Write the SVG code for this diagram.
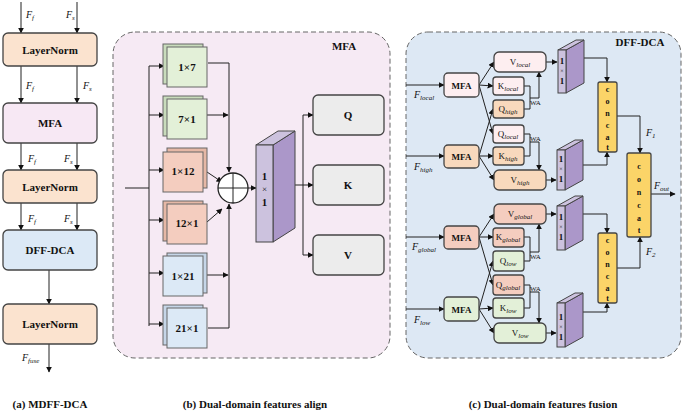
<svg xmlns="http://www.w3.org/2000/svg" width="685" height="414" viewBox="0 0 685 414" font-family="'Liberation Serif', serif">
<defs>
<marker id="ah" viewBox="0 0 10 10" refX="9" refY="5" markerWidth="6" markerHeight="6" orient="auto"><path d="M0,0L10,5L0,10z" fill="#111"/></marker>
<style>
text{font-family:'Liberation Serif',serif;fill:#111}
.b{font-weight:bold}
.it{font-style:italic}
.box{stroke:#444;stroke-width:1.3}
.ln{stroke:#222;stroke-width:1;fill:none}
.ar{stroke:#222;stroke-width:1;fill:none;marker-end:url(#ah)}
.peach{fill:#fbe3cf}.pink{fill:#f7e8f4}.blue{fill:#dce9f6}.green{fill:#e3f0d8}.salmon{fill:#f4cdbf}.lpink{fill:#fdeef0}.gray{fill:#ececec}.yel{fill:#fbd468}
.pf{fill:#ccc2de;stroke:#444;stroke-width:1}.pb{fill:#ab97c9;stroke:#444;stroke-width:1}
</style>
</defs>
<rect width="685" height="414" fill="#fff"/>
<rect x="113" y="32" width="277" height="326" rx="22" fill="#f6eaf4" stroke="#666" stroke-dasharray="5,3"/>
<rect x="406" y="32" width="275" height="326" rx="22" fill="#dde8f4" stroke="#666" stroke-dasharray="5,3"/>

<g id="connectors">
<line class="ar" x1="21" y1="2" x2="21" y2="33"/><line class="ar" x1="77" y1="2" x2="77" y2="33"/>
<line class="ar" x1="21" y1="66" x2="21" y2="103"/><line class="ar" x1="77" y1="66" x2="77" y2="103"/>
<line class="ar" x1="21" y1="143" x2="21" y2="170"/><line class="ar" x1="77" y1="143" x2="77" y2="170"/>
<line class="ar" x1="21" y1="203" x2="21" y2="230"/><line class="ar" x1="77" y1="203" x2="77" y2="230"/>
<line class="ar" x1="49" y1="270" x2="49" y2="304"/>
<line class="ar" x1="49" y1="344" x2="49" y2="372"/>
<polyline class="ln" points="125,188 149,188"/>
<line class="ln" x1="149" y1="66" x2="149" y2="326"/>
<line class="ar" x1="149" y1="66" x2="164" y2="66"/>
<line class="ar" x1="149" y1="115" x2="164" y2="115"/>
<line class="ar" x1="149" y1="170" x2="164" y2="170"/>
<line class="ar" x1="149" y1="220" x2="164" y2="220"/>
<line class="ar" x1="149" y1="273" x2="164" y2="273"/>
<line class="ar" x1="149" y1="324" x2="164" y2="324"/>
<polyline class="ar" points="208,63 229,63 229,172"/>
<polyline class="ar" points="208,328 229,328 229,204"/>
<line class="ar" x1="207" y1="115" x2="228" y2="115"/>
<line class="ar" x1="207" y1="275" x2="228" y2="275"/>
<line class="ar" x1="207" y1="172" x2="222" y2="182"/>
<line class="ar" x1="207" y1="222" x2="222" y2="209"/>
<line class="ar" x1="248" y1="188" x2="256" y2="188"/>
<line class="ln" x1="295" y1="185" x2="303" y2="185"/>
<line class="ln" x1="303" y1="115" x2="303" y2="255"/>
<line class="ar" x1="303" y1="115" x2="313" y2="115"/>
<line class="ar" x1="303" y1="185" x2="313" y2="185"/>
<line class="ar" x1="303" y1="255" x2="313" y2="255"/>
<line class="ar" x1="406" y1="85" x2="444" y2="85"/>
<line class="ar" x1="406" y1="156" x2="444" y2="156"/>
<line class="ar" x1="406" y1="237" x2="444" y2="237"/>
<line class="ar" x1="406" y1="309" x2="444" y2="309"/>
<line class="ar" x1="479" y1="85" x2="494" y2="62"/><line class="ar" x1="479" y1="85" x2="493" y2="86"/><line class="ar" x1="479" y1="85" x2="493" y2="134"/>
<line class="ar" x1="479" y1="156" x2="493" y2="109"/><line class="ar" x1="479" y1="156" x2="493" y2="156"/><line class="ar" x1="479" y1="156" x2="494" y2="180"/>
<line class="ar" x1="479" y1="237" x2="494" y2="214"/><line class="ar" x1="479" y1="237" x2="493" y2="237"/><line class="ar" x1="479" y1="237" x2="493" y2="285"/>
<line class="ar" x1="479" y1="309" x2="493" y2="261"/><line class="ar" x1="479" y1="309" x2="493" y2="308"/><line class="ar" x1="479" y1="309" x2="494" y2="333"/>
<polyline class="ln" points="524,86 530,86 530,109 524,109"/><polyline class="ar" points="530,98 539,98 539,72"/>
<polyline class="ln" points="524,134 530,134 530,156 524,156"/><polyline class="ar" points="530,142 539,142 539,170"/>
<polyline class="ln" points="524,237 530,237 530,261 524,261"/><polyline class="ar" points="530,252 539,252 539,224"/>
<polyline class="ln" points="524,285 530,285 530,308 524,308"/><polyline class="ar" points="530,292 539,292 539,323"/>
<line class="ar" x1="546" y1="62" x2="557" y2="62"/>
<line class="ar" x1="546" y1="180" x2="556" y2="180"/>
<line class="ar" x1="546" y1="214" x2="556" y2="214"/>
<line class="ar" x1="546" y1="333" x2="556" y2="333"/>
<polyline class="ar" points="584,58 607,58 607,82"/>
<polyline class="ar" points="583,165 607,165 607,152"/>
<polyline class="ar" points="583,214 607,214 607,233"/>
<polyline class="ar" points="583,312 607,312 607,303"/>
<polyline class="ar" points="617,116 640,116 640,153"/>
<polyline class="ar" points="617,268 640,268 640,237"/>
<line class="ar" x1="651" y1="194" x2="675" y2="194"/>
</g>

<g id="ln1"><rect class="box peach" x="3" y="33" width="94" height="33" rx="5"/><text class="b" x="50" y="54" font-size="11" text-anchor="middle">LayerNorm</text></g>
<g id="mfa0"><rect class="box pink" x="3" y="103" width="94" height="40" rx="5"/><text class="b" x="50" y="127" font-size="11" text-anchor="middle">MFA</text></g>
<g id="ln2"><rect class="box peach" x="3" y="170" width="94" height="33" rx="5"/><text class="b" x="50" y="191" font-size="11" text-anchor="middle">LayerNorm</text></g>
<g id="dff0"><rect class="box blue" x="3" y="230" width="94" height="40" rx="5"/><text class="b" x="50" y="254" font-size="11" text-anchor="middle">DFF-DCA</text></g>
<g id="ln3"><rect class="box peach" x="3" y="304" width="94" height="40" rx="5"/><text class="b" x="50" y="328" font-size="11" text-anchor="middle">LayerNorm</text></g>
<g id="llabels" font-size="10">
<text class="it" x="26" y="18">F<tspan font-size="7" dy="2">f</tspan></text><text class="it" x="66" y="18">F<tspan font-size="7" dy="2">s</tspan></text>
<text class="it" x="26" y="89">F<tspan font-size="7" dy="2">f</tspan></text><text class="it" x="83" y="89">F<tspan font-size="7" dy="2">s</tspan></text>
<text class="it" x="28" y="162">F<tspan font-size="7" dy="2">f</tspan></text><text class="it" x="64" y="162">F<tspan font-size="7" dy="2">s</tspan></text>
<text class="it" x="28" y="222">F<tspan font-size="7" dy="2">f</tspan></text><text class="it" x="64" y="222">F<tspan font-size="7" dy="2">s</tspan></text>
<text class="it" x="22" y="361">F<tspan font-size="7" dy="2">fuse</tspan></text>
</g>
<text class="b" x="50" y="408" font-size="11" text-anchor="middle">(a) MDFF-DCA</text>

<text class="b" x="344" y="50" font-size="11" text-anchor="middle">MFA</text>
<g font-size="11">
<g id="k17"><rect x="163" y="44" width="40" height="40" fill="#c9dcbc" stroke="#666"/><rect class="green" x="167" y="47" width="40" height="40" stroke="#666"/><text class="b" x="187" y="71" text-anchor="middle">1×7</text></g>
<g id="k71"><rect x="163" y="96" width="40" height="40" fill="#c9dcbc" stroke="#666"/><rect class="green" x="167" y="99" width="40" height="40" stroke="#666"/><text class="b" x="187" y="123" text-anchor="middle">7×1</text></g>
<g id="k112"><rect x="167" y="148" width="40" height="40" fill="#e6b8a6" stroke="#666"/><rect class="salmon" x="163" y="152" width="40" height="40" stroke="#666"/><text class="b" x="183" y="175" text-anchor="middle">1×12</text></g>
<g id="k121"><rect x="163" y="201" width="40" height="40" fill="#e6b8a6" stroke="#666"/><rect class="salmon" x="167" y="204" width="40" height="40" stroke="#666"/><text class="b" x="187" y="227" text-anchor="middle">12×1</text></g>
<g id="k121b"><rect x="167" y="253" width="40" height="40" fill="#c6d6e8" stroke="#666"/><rect class="blue" x="163" y="256" width="40" height="40" stroke="#666"/><text class="b" x="183" y="280" text-anchor="middle">1×21</text></g>
<g id="k211"><rect x="163" y="305" width="40" height="40" fill="#c6d6e8" stroke="#666"/><rect class="blue" x="167" y="308" width="40" height="40" stroke="#666"/><text class="b" x="187" y="332" text-anchor="middle">21×1</text></g>
</g>
<g id="oplus"><circle cx="233" cy="188" r="15" fill="#fff" stroke="#222" stroke-width="1.3"/><line class="ln" x1="218" y1="188" x2="248" y2="188"/><line class="ln" x1="233" y1="173" x2="233" y2="203"/></g>
<g id="conv1"><polygon class="pb" points="273,145 295,131 295,228 273,242"/><polygon class="pf" points="256,145 273,145 295,131 278,131"/><rect class="pf" x="256" y="145" width="17" height="97"/><text class="b" x="264.5" y="180" font-size="11" text-anchor="middle">1</text><text x="264.5" y="192" font-size="9" text-anchor="middle">×</text><text class="b" x="264.5" y="206" font-size="11" text-anchor="middle">1</text></g>
<g id="q"><rect class="box gray" x="313" y="95" width="71" height="40" rx="5"/><text class="b" x="348" y="119" font-size="11" text-anchor="middle">Q</text></g>
<g id="k"><rect class="box gray" x="313" y="165" width="71" height="40" rx="5"/><text class="b" x="348" y="189" font-size="11" text-anchor="middle">K</text></g>
<g id="v"><rect class="box gray" x="313" y="235" width="71" height="40" rx="5"/><text class="b" x="348" y="259" font-size="11" text-anchor="middle">V</text></g>
<text class="b" x="255" y="408" font-size="11" text-anchor="middle">(b) Dual-domain  features align</text>

<text class="b" x="640" y="46" font-size="11" text-anchor="middle">DFF-DCA</text>
<g font-size="9">
<g id="mfa1"><rect class="box lpink" x="444" y="73" width="35" height="24" rx="4"/><text class="b" x="461.5" y="89" text-anchor="middle">MFA</text></g>
<g id="mfa2"><rect class="box" x="444" y="145" width="35" height="23" rx="4" fill="#f8d9bd"/><text class="b" x="461.5" y="160" text-anchor="middle">MFA</text></g>
<g id="mfa3"><rect class="box salmon" x="444" y="226" width="35" height="23" rx="4"/><text class="b" x="461.5" y="241" text-anchor="middle">MFA</text></g>
<g id="mfa4"><rect class="box green" x="444" y="297" width="35" height="24" rx="4"/><text class="b" x="461.5" y="313" text-anchor="middle">MFA</text></g>
<g id="vlocal"><rect class="box lpink" x="494" y="52" width="52" height="20" rx="5"/><text x="520" y="65" text-anchor="middle">V<tspan class="it" font-size="7" dy="2">local</tspan></text></g>
<g id="klocal"><rect class="box lpink" x="493" y="77" width="31" height="18" rx="3"/><text x="508" y="89" text-anchor="middle">K<tspan class="it" font-size="7" dy="2">local</tspan></text></g>
<g id="qhigh"><rect class="box" fill="#f8d9bd" x="493" y="100" width="31" height="18" rx="3"/><text x="508" y="112" text-anchor="middle">Q<tspan class="it" font-size="7" dy="2">high</tspan></text></g>
<g id="qlocal"><rect class="box lpink" x="493" y="125" width="31" height="18" rx="3"/><text x="508" y="137" text-anchor="middle">Q<tspan class="it" font-size="7" dy="2">local</tspan></text></g>
<g id="khigh"><rect class="box" fill="#f8d9bd" x="493" y="147" width="31" height="18" rx="3"/><text x="508" y="159" text-anchor="middle">K<tspan class="it" font-size="7" dy="2">high</tspan></text></g>
<g id="vhigh"><rect class="box" fill="#f8d9bd" x="494" y="170" width="52" height="20" rx="5"/><text x="520" y="183" text-anchor="middle">V<tspan class="it" font-size="7" dy="2">high</tspan></text></g>
<g id="vglobal"><rect class="box salmon" x="494" y="204" width="52" height="20" rx="5"/><text x="520" y="217" text-anchor="middle">V<tspan class="it" font-size="7" dy="2">global</tspan></text></g>
<g id="kglobal"><rect class="box salmon" x="493" y="228" width="31" height="19" rx="3"/><text x="508" y="240" text-anchor="middle">K<tspan class="it" font-size="7" dy="2">global</tspan></text></g>
<g id="qlow"><rect class="box green" x="493" y="251" width="31" height="20" rx="3"/><text x="508" y="264" text-anchor="middle">Q<tspan class="it" font-size="7" dy="2">low</tspan></text></g>
<g id="qglobal"><rect class="box salmon" x="493" y="275" width="31" height="20" rx="3"/><text x="508" y="288" text-anchor="middle">Q<tspan class="it" font-size="7" dy="2">global</tspan></text></g>
<g id="klow"><rect class="box green" x="493" y="298" width="31" height="20" rx="3"/><text x="508" y="311" text-anchor="middle">K<tspan class="it" font-size="7" dy="2">low</tspan></text></g>
<g id="vlow"><rect class="box green" x="494" y="323" width="52" height="20" rx="5"/><text x="520" y="336" text-anchor="middle">V<tspan class="it" font-size="7" dy="2">low</tspan></text></g>
</g>
<g font-size="7">
<text x="530" y="105">WA</text><text x="530" y="141">WA</text><text x="530" y="259">WA</text><text x="530" y="291">WA</text>
</g>
<g font-size="9">
<g id="c1"><polygon class="pb" points="566,50 584,40 584,83 566,93"/><polygon class="pf" points="558,50 566,50 584,40 576,40"/><rect class="pf" x="558" y="50" width="8" height="43"/><text class="b" x="562" y="64" text-anchor="middle">1</text><text x="562" y="73" font-size="6" text-anchor="middle">×</text><text class="b" x="562" y="84" text-anchor="middle">1</text></g>
<g id="c2"><polygon class="pb" points="565,150 583,140 583,180 565,190"/><polygon class="pf" points="557,150 565,150 583,140 575,140"/><rect class="pf" x="557" y="150" width="8" height="40"/><text class="b" x="561" y="162" text-anchor="middle">1</text><text x="561" y="171" font-size="6" text-anchor="middle">×</text><text class="b" x="561" y="182" text-anchor="middle">1</text></g>
<g id="c3"><polygon class="pb" points="565,206 583,196 583,240 565,250"/><polygon class="pf" points="557,206 565,206 583,196 575,196"/><rect class="pf" x="557" y="206" width="8" height="44"/><text class="b" x="561" y="220" text-anchor="middle">1</text><text x="561" y="229" font-size="6" text-anchor="middle">×</text><text class="b" x="561" y="240" text-anchor="middle">1</text></g>
<g id="c4"><polygon class="pb" points="565,303 583,293 583,337 565,347"/><polygon class="pf" points="557,303 565,303 583,293 575,293"/><rect class="pf" x="557" y="303" width="8" height="44"/><text class="b" x="561" y="320" text-anchor="middle">1</text><text x="561" y="329" font-size="6" text-anchor="middle">×</text><text class="b" x="561" y="340" text-anchor="middle">1</text></g>
</g>
<g font-size="8">
<g id="cat1"><rect class="box yel" x="598" y="82" width="19" height="70" rx="2"/><text class="b" text-anchor="middle"><tspan x="607.5" y="92">c</tspan><tspan x="607.5" y="104">o</tspan><tspan x="607.5" y="116">n</tspan><tspan x="607.5" y="128">c</tspan><tspan x="607.5" y="140">a</tspan><tspan x="607.5" y="150">t</tspan></text></g>
<g id="cat2"><rect class="box yel" x="598" y="233" width="19" height="70" rx="2"/><text class="b" text-anchor="middle"><tspan x="607.5" y="243">c</tspan><tspan x="607.5" y="255">o</tspan><tspan x="607.5" y="267">n</tspan><tspan x="607.5" y="279">c</tspan><tspan x="607.5" y="291">a</tspan><tspan x="607.5" y="301">t</tspan></text></g>
<g id="cat3"><rect class="box yel" x="627" y="153" width="24" height="84" rx="2"/><text class="b" text-anchor="middle"><tspan x="639" y="169">c</tspan><tspan x="639" y="182">o</tspan><tspan x="639" y="195">n</tspan><tspan x="639" y="208">c</tspan><tspan x="639" y="221">a</tspan><tspan x="639" y="233">t</tspan></text></g>
</g>
<g font-size="10">
<text class="it" x="414" y="98">F<tspan font-size="7" dy="2">local</tspan></text>
<text class="it" x="414" y="170">F<tspan font-size="7" dy="2">high</tspan></text>
<text class="it" x="412" y="250">F<tspan font-size="7" dy="2">global</tspan></text>
<text class="it" x="414" y="323">F<tspan font-size="7" dy="2">low</tspan></text>
<text class="it" x="646" y="136">F<tspan font-size="7" dy="2">1</tspan></text>
<text class="it" x="646" y="255">F<tspan font-size="7" dy="2">2</tspan></text>
<text class="it" x="654" y="189">F<tspan font-size="7" dy="2">out</tspan></text>
</g>
<text class="b" x="543" y="408" font-size="11" text-anchor="middle">(c) Dual-domain features fusion</text>
</svg>
